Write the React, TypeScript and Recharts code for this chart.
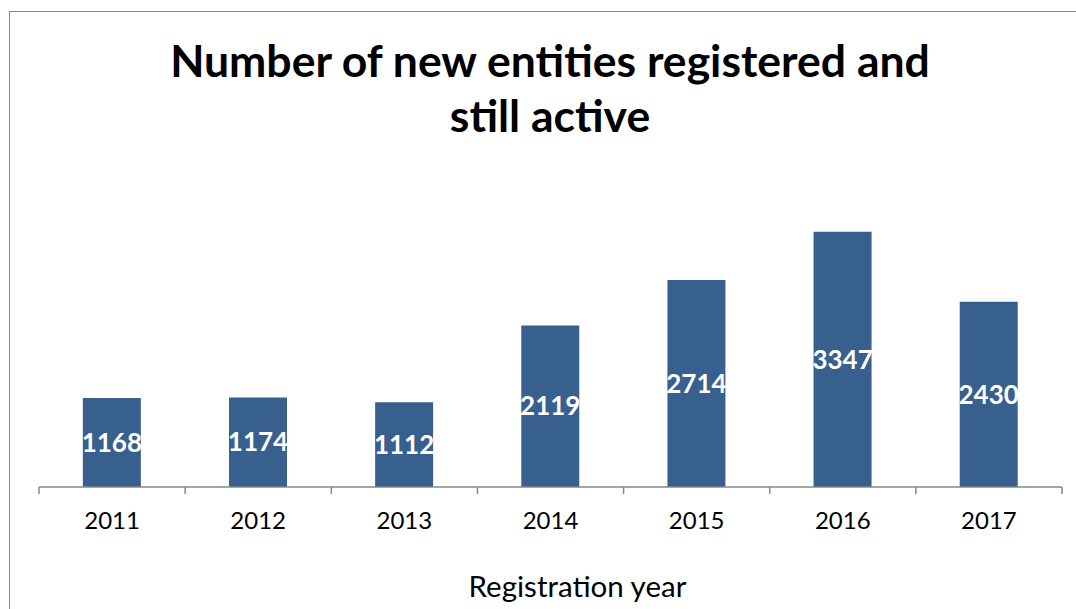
import { BarChart, Bar, XAxis, YAxis, LabelList } from 'recharts';

const years = ['2011', '2012', '2013', '2014', '2015', '2016', '2017'];
const entities = [1168, 1174, 1112, 2119, 2714, 3347, 2430];
const titleLines = ['Number of new entities registered and', 'still active'];
const axisTitle = 'Registration year';

const chartData = years.map((year, i) => ({ year, count: entities[i] }));

const FONT = 'Lato, "Open Sans", sans-serif';
const BAR_COLOR = '#37608f';
const AXIS_COLOR = '#868686';

const W = 1076;
const H = 609;
const MARGIN = { top: 182, right: 14, left: 39, bottom: 12 };
const AXIS_HEIGHT = 110;

// category tick: label in the middle, tick marks on the band edges (Excel style)
const YearTick = (props: any) => {
  const { x, y, payload, index, width } = props;
  const band = width ? width / years.length : payload?.offset * 2;
  const half = band / 2;
  const isLast = index === years.length - 1;
  return (
    <g>
      <line x1={x - half} x2={x - half} y1={y} y2={y + 7} stroke={AXIS_COLOR} strokeWidth={1.5} />
      {isLast && (
        <line x1={x + half} x2={x + half} y1={y} y2={y + 7} stroke={AXIS_COLOR} strokeWidth={1.5} />
      )}
      <text x={x} y={y + 42} textAnchor="middle" fontSize={24} fontFamily={FONT} fill="#000">
        {payload.value}
      </text>
    </g>
  );
};

export default function App() {
  return (
    <div style={{ position: 'absolute', left: 0, top: 0, width: W, height: H, overflow: 'hidden', background: '#fff' }}>
      <div
        style={{
          position: 'absolute',
          left: 9,
          top: 11,
          width: 1200,
          height: 700,
          border: '1px solid #898989',
        }}
      />
      <svg width={W} height={150} style={{ position: 'absolute', left: 0, top: 0 }}>
        {titleLines.map((line, i) => (
          <text
            key={line}
            x={550}
            y={77 + i * 55}
            textAnchor="middle"
            fontSize={44.5}
            fontWeight={700}
            fontFamily={FONT}
            fill="#000"
          >
            {line}
          </text>
        ))}
      </svg>
      <div style={{ position: 'absolute', left: 0, top: 0 }}>
        <BarChart width={W} height={H} data={chartData} margin={MARGIN} barCategoryGap="30%">
          <XAxis
            dataKey="year"
            height={AXIS_HEIGHT}
            tickLine={false}
            tickSize={0}
            tickMargin={0}
            axisLine={{ stroke: AXIS_COLOR, strokeWidth: 1.5 }}
            tick={<YearTick />}
            interval={0}
            label={{
              value: axisTitle,
              position: 'insideBottom',
              offset: 0,
              dx: 27,
              fontSize: 29.5,
              fontFamily: FONT,
              fill: '#000',
            }}
          />
          <YAxis hide domain={[0, 4000]} />
          <Bar dataKey="count" fill={BAR_COLOR} isAnimationActive={false}>
            <LabelList
              dataKey="count"
              position="center"
              fill="#fff"
              fontSize={26}
              fontWeight={700}
              fontFamily={FONT}
            />
          </Bar>
        </BarChart>
      </div>
    </div>
  );
}
